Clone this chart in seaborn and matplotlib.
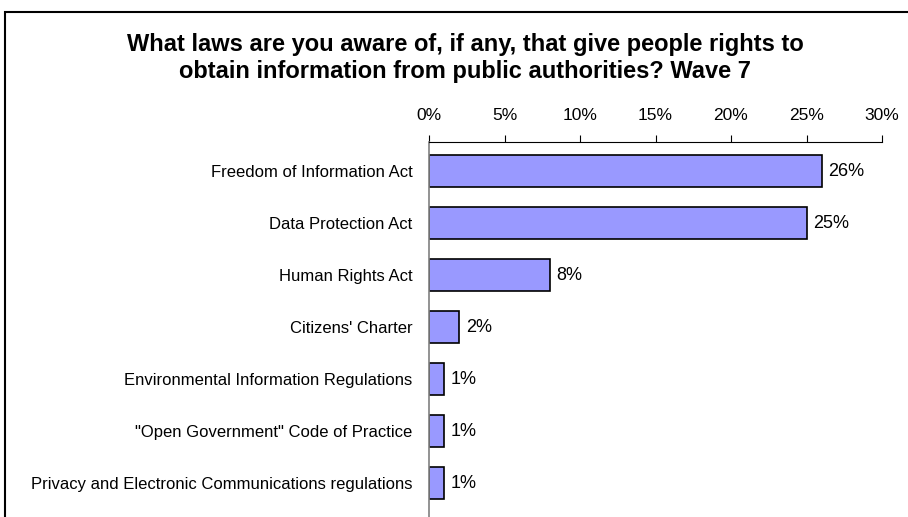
import matplotlib
matplotlib.use("Agg")
import matplotlib.pyplot as plt
import seaborn as sns
import pandas as pd
from matplotlib.patches import Rectangle

laws = [
    "Freedom of Information Act",
    "Data Protection Act",
    "Human Rights Act",
    "Citizens' Charter",
    "Environmental Information Regulations",
    "\"Open Government\" Code of Practice",
    "Privacy and Electronic Communications regulations",
]
aware = [26, 25, 8, 2, 1, 1, 1]
x_ticks = [0, 5, 10, 15, 20, 25, 30]

df = pd.DataFrame({"law": laws, "aware": aware})

sns.set_style("white")
plt.rcParams["font.family"] = ["Liberation Sans", "DejaVu Sans"]
plt.rcParams["text.color"] = "black"
plt.rcParams["xtick.color"] = "black"
plt.rcParams["ytick.color"] = "black"

W, H = 908, 517
fig = plt.figure(figsize=(W / 100, H / 100), dpi=100)

# outer frame of the chart (cropped at right and bottom)
fig.patches.append(Rectangle((5 / W, -0.1), 1.2, 1.1 - 12 / H, transform=fig.transFigure,
                             fill=False, edgecolor="black", linewidth=1.5))

ax_left, ax_right = 429, 882
ax_top = 142
extra_top = 3 / 52
extra_bot = 10 / 52
ax_bottom = ax_top + 52 * (len(laws) + extra_top + extra_bot)
ax = fig.add_axes([ax_left / W, 1 - ax_bottom / H, (ax_right - ax_left) / W, (ax_bottom - ax_top) / H])

sns.barplot(data=df, x="aware", y="law", ax=ax, color="#9999FF", width=0.62,
            edgecolor="black", linewidth=1.2, saturation=1)

ax.set_xlim(0, 30)
ax.set_ylim(len(laws) - 0.5 + extra_bot, -0.5 - extra_top)
ax.xaxis.tick_top()
ax.set_xticks(x_ticks)
ax.set_xticklabels([f"{t}%" for t in x_ticks], fontsize=12.5)
ax.tick_params(axis="x", direction="out", length=5, width=0.8, pad=9, top=True, bottom=False)

# category ticks sit between the bars
ax.set_yticks(range(len(laws)))
ax.set_yticklabels(laws, fontsize=12)
ax.tick_params(axis="y", length=0, pad=12)
ax.set_yticks([i - 0.5 for i in range(len(laws) + 1)], minor=True)
ax.tick_params(axis="y", which="minor", direction="out", length=4, width=0.8)
ax.set_xlabel("")
ax.set_ylabel("")

for s in ["right", "bottom"]:
    ax.spines[s].set_visible(False)
ax.spines["left"].set_color("#808080")
ax.spines["left"].set_linewidth(1.2)
ax.spines["top"].set_color("black")
ax.spines["top"].set_linewidth(0.8)

for i, v in enumerate(aware):
    ax.text(v + 0.45, i, f"{v}%", va="center", ha="left", fontsize=13)

fig.text(465 / W, 1 - 44 / H, "What laws are you aware of, if any, that give people rights to",
         ha="center", va="center", fontsize=17, fontweight="bold")
fig.text(465 / W, 1 - 71 / H, "obtain information from public authorities? Wave 7",
         ha="center", va="center", fontsize=17, fontweight="bold")

fig.savefig("out.png", dpi=100)
